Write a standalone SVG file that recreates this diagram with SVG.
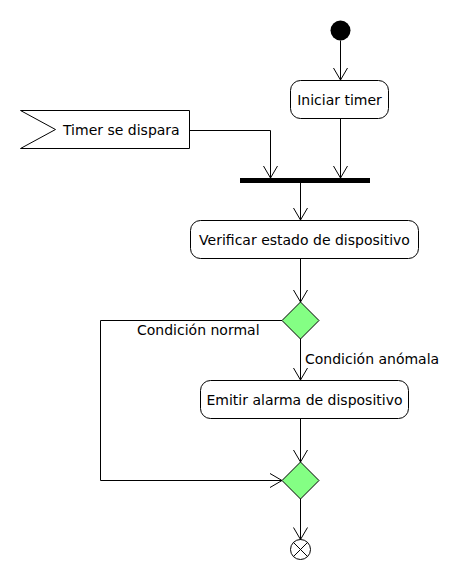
<svg xmlns="http://www.w3.org/2000/svg" width="470" height="580" viewBox="0 0 470 580">
<style>
.act{fill:#ffffff;stroke:#000000;stroke-width:1}
.dec{fill:#84FF84;stroke:#000000;stroke-width:1}
.ln{fill:none;stroke:#000000;stroke-width:1}
text{font-family:"DejaVu Sans",Verdana,sans-serif;font-size:14px;fill:#000000}
.c{text-anchor:middle}
</style>
<defs>
<marker id="ah" viewBox="-1 -8 14 16" refX="12" refY="0" markerWidth="14" markerHeight="16" markerUnits="userSpaceOnUse" orient="auto">
<path d="M0,-7 L12,0 L0,7" fill="none" stroke="#000000" stroke-width="1"/>
</marker>
</defs>
<g id="start"><circle cx="340.5" cy="30.5" r="10" fill="#000000"/></g>
<g id="iniciar"><rect class="act" x="290.5" y="80.5" width="98" height="38" rx="10" ry="10"/><text class="c" x="339.5" y="105">Iniciar timer</text></g>
<g id="timer"><polygon class="act" points="20.5,110.5 189.5,110.5 189.5,148.5 20.5,148.5 55.5,129.5"/><text x="63" y="134.5">Timer se dispara</text></g>
<g id="fork"><rect x="240" y="178" width="130" height="5" fill="#000000"/></g>
<g id="verificar"><rect class="act" x="190.5" y="220.5" width="228" height="38" rx="10" ry="10"/><text class="c" x="304.5" y="244.5">Verificar estado de dispositivo</text></g>
<g id="decision1"><polygon class="dec" points="300.5,302 319,320.5 300.5,339 282,320.5"/></g>
<g id="emitir"><rect class="act" x="200.5" y="380.5" width="208" height="38" rx="10" ry="10"/><text class="c" x="304.5" y="404.5">Emitir alarma de dispositivo</text></g>
<g id="merge"><polygon class="dec" points="300.5,462 319,480.5 300.5,499 282,480.5"/></g>
<g id="end"><circle cx="300.5" cy="549.5" r="10" fill="#ffffff" stroke="#000000" stroke-width="1"/><path class="ln" d="M293.4,542.4 L307.6,556.6 M307.6,542.4 L293.4,556.6"/></g>
<g id="connectors">
<path class="ln" d="M340.5,40.5 L340.5,80" marker-end="url(#ah)"/>
<path class="ln" d="M340.5,119 L340.5,178" marker-end="url(#ah)"/>
<path class="ln" d="M189.5,130.5 L270.5,130.5 L270.5,178" marker-end="url(#ah)"/>
<path class="ln" d="M300.5,183 L300.5,220" marker-end="url(#ah)"/>
<path class="ln" d="M300.5,259 L300.5,302" marker-end="url(#ah)"/>
<path class="ln" d="M300.5,339 L300.5,380" marker-end="url(#ah)"/>
<path class="ln" d="M282,320.5 L100.5,320.5 L100.5,480.5 L282,480.5" marker-end="url(#ah)"/>
<path class="ln" d="M300.5,419 L300.5,462" marker-end="url(#ah)"/>
<path class="ln" d="M300.5,499 L300.5,539.5" marker-end="url(#ah)"/>
<text x="137" y="335">Condición normal</text>
<text x="305" y="364">Condición anómala</text>
</g>
</svg>
